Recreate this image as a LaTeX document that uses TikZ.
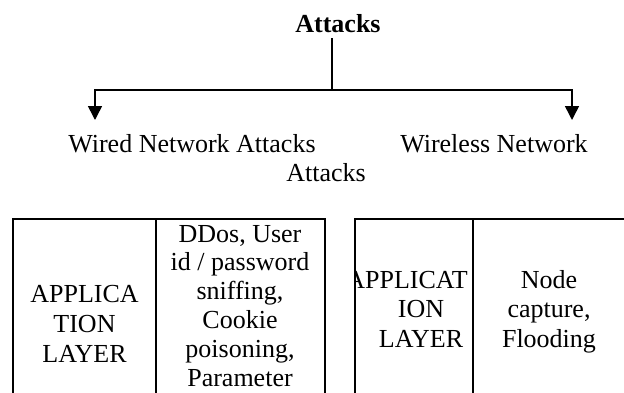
\documentclass[tikz,border=0pt]{standalone}
\usepackage{fontspec}
\setmainfont{Liberation Serif}
\usetikzlibrary{arrows.meta}
\newcommand{\celltext}[2]{{\fontsize{26}{#1}\selectfont\begin{tabular}[t]{@{}c@{}}#2\end{tabular}}}
\begin{document}
\begin{tikzpicture}[x=1pt,y=-1pt,line width=1.5pt,
  lbl/.style={inner sep=0pt,anchor=base,font=\fontsize{26}{29.5}\selectfont},
  arr/.style={-{Triangle[width=14pt,length=14pt]}},
  rule/.style={line width=1.5pt}]
\useasboundingbox (0,0) rectangle (624,392);
\clip (0,0) rectangle (624,392);
% tree
\node[lbl,font=\fontsize{26}{29.5}\selectfont\bfseries] (title) at (338,32) {Attacks};
\coordinate (stem) at (332,38);
\coordinate (fork) at (332,90);
\coordinate (lend) at (95,120);
\coordinate (rend) at (572,120);
\node[lbl] (wired) at (192,152) {Wired Network Attacks};
\node[lbl] (wless) at (494,152) {Wireless Network};
\node[lbl] (wless2) at (326,181) {Attacks};
\draw (stem) -- (fork);
\draw[arr] (fork) -| (lend);
\draw[arr] (fork) -| (rend);
% left table
\draw[rule] (13,219) rectangle (325,420);
\draw[rule] (156,219) -- (156,420);
\node[lbl] (l1) at (84.5,302) {\celltext{30}{APPLICA\\TION\\LAYER}};
\node[lbl] (l2) at (240,242) {\celltext{28.8}{DDos, User\\id / password\\sniffing,\\Cookie\\poisoning,\\Parameter}};
% right table
\draw[rule] (355,420) -- (355,219) -- (630,219);
\draw[rule] (473,219) -- (473,420);
\begin{scope}
\clip (356,219) rectangle (473,392);
\node[lbl] (r1a) at (407,288) {APPLICAT};
\end{scope}
\node[lbl] (r1b) at (421,317) {\celltext{30}{ION\\LAYER}};
\node[lbl] (r2) at (549,288) {\celltext{29.5}{Node\\capture,\\Flooding}};
\end{tikzpicture}
\end{document}
